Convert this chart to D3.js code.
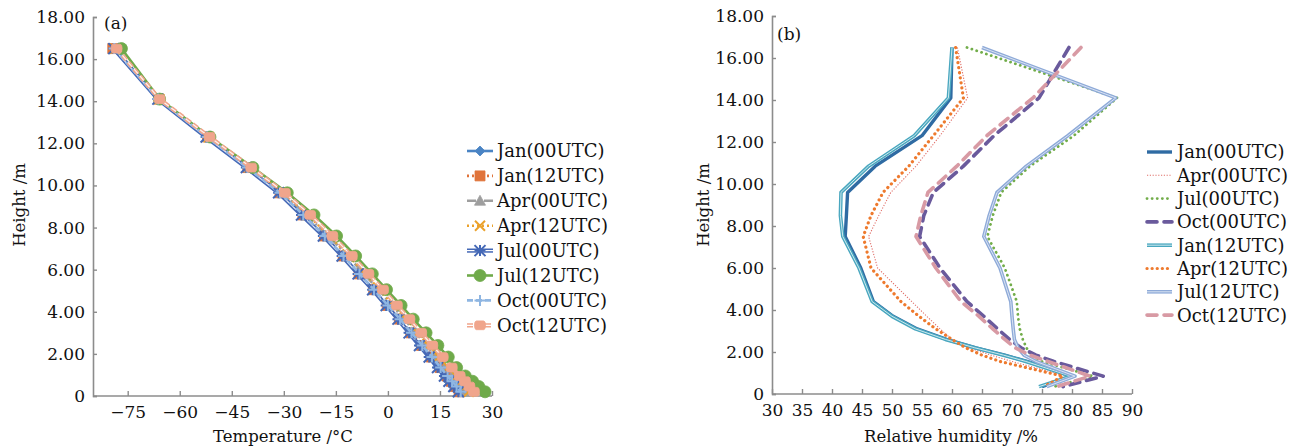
<!DOCTYPE html>
<html>
<head>
<meta charset="utf-8">
<script src="https://cdn.jsdelivr.net/npm/d3@7"></script>
<style>
  html, body { margin: 0; padding: 0; background: #fff; }
  svg { display: block; font-family: "DejaVu Serif", "Liberation Serif", serif; }
  .tick text { fill: #111; }
</style>
</head>
<body>
<svg id="chart" width="1297" height="447"></svg>
<script>
// ---- Panel (a): temperature profiles ----
const tempHeights = [16.5, 14.1, 12.3, 10.85, 9.65, 8.6, 7.6, 6.65, 5.8, 5.05, 4.3, 3.65, 3.0, 2.4, 1.85, 1.35, 0.95, 0.7, 0.45, 0.2];
const tJan00 = [-79.0, -66.2, -52.2, -40.6, -31.3, -24.7, -18.5, -13.1, -8.5, -4.3, -0.4, 3.0, 6.2, 9.2, 12.0, 14.4, 16.2, 17.4, 18.8, 20.2];
const tJan12 = [-79.3, -66.0, -52.0, -40.4, -31.1, -24.5, -18.3, -12.9, -8.3, -4.1, -0.2, 3.3, 6.6, 9.7, 12.5, 15.0, 17.0, 18.2, 19.4, 20.5];
const tApr00 = [-78.6, -65.9, -51.7, -39.9, -30.4, -23.5, -17.1, -11.6, -6.9, -2.7, 1.2, 4.7, 8.0, 11.1, 13.9, 16.4, 18.5, 19.8, 21.0, 22.2];
const tApr12 = [-78.8, -65.9, -51.6, -39.7, -30.1, -23.2, -16.8, -11.3, -6.6, -2.4, 1.6, 5.2, 8.6, 11.8, 14.8, 17.5, 19.7, 21.0, 22.2, 23.3];
const tJul00 = [-79.0, -66.3, -52.4, -40.8, -31.5, -24.9, -18.6, -13.2, -8.6, -4.4, -0.5, 2.9, 6.1, 9.1, 11.9, 14.3, 16.3, 17.6, 19.0, 20.3];
const tJul12 = [-76.8, -65.8, -51.3, -38.9, -29.0, -21.3, -14.8, -9.3, -4.5, -0.4, 3.8, 7.3, 11.0, 14.4, 17.4, 19.8, 22.3, 24.4, 26.2, 28.0];
const tOct00 = [-78.9, -66.2, -52.1, -40.5, -31.1, -24.4, -18.2, -12.8, -8.2, -4.0, 0.0, 3.5, 6.8, 9.9, 12.7, 15.2, 17.2, 18.5, 19.8, 21.0];
const tOct12 = [-78.2, -65.8, -51.4, -39.4, -29.7, -22.4, -16.0, -10.4, -5.6, -1.4, 2.6, 6.2, 9.6, 12.8, 15.8, 18.4, 20.7, 22.2, 23.5, 24.8];
const tempTicks = [-75, -60, -45, -30, -15, 0, 15, 30];

// ---- Panel (b): relative humidity profiles ----
const rhHeights = [16.5, 14.1, 12.3, 10.85, 9.6, 8.5, 7.5, 6.0, 4.4, 3.7, 3.1, 2.6, 2.2, 1.85, 1.55, 0.85, 0.35];
const rhJan00 = [60.0, 59.8, 55.0, 47.2, 42.6, 42.4, 42.2, 44.8, 46.9, 50.2, 54.2, 59.1, 64.0, 68.8, 72.5, 80.2, 75.0];
const rhApr00 = [60.9, 62.6, 58.0, 54.0, 49.8, 47.8, 46.1, 47.6, 53.3, 55.8, 58.0, 60.0, 62.8, 66.5, 70.0, 79.0, 75.8];
const rhJul00 = [62.5, 87.5, 80.3, 73.0, 68.2, 66.8, 65.9, 68.8, 70.8, 71.0, 71.3, 71.8, 72.4, 73.2, 75.0, 83.5, 77.0];
const rhOct00 = [79.5, 74.5, 67.0, 61.9, 56.9, 55.3, 54.6, 58.0, 62.5, 65.3, 67.6, 69.6, 71.5, 74.0, 77.0, 85.2, 78.5];
const rhJan12 = [60.0, 59.4, 53.7, 46.1, 41.5, 41.4, 41.8, 44.5, 46.7, 50.0, 53.9, 58.9, 63.8, 68.6, 72.3, 79.8, 74.5];
const rhApr12 = [60.6, 61.9, 56.9, 52.8, 48.5, 46.5, 45.2, 46.5, 51.5, 54.5, 57.3, 60.0, 62.3, 65.0, 68.0, 78.5, 75.3];
const rhJul12 = [65.0, 87.3, 79.3, 72.4, 67.5, 66.2, 65.3, 68.0, 69.8, 70.0, 70.2, 70.4, 71.0, 72.0, 74.0, 80.5, 75.8];
const rhOct12 = [81.5, 73.5, 65.8, 60.8, 56.0, 54.8, 54.0, 57.3, 61.5, 64.5, 66.8, 68.8, 70.5, 73.0, 76.0, 83.0, 77.5];
const rhTicks = [30, 35, 40, 45, 50, 55, 60, 65, 70, 75, 80, 85, 90];

const heightTicks = [0, 2, 4, 6, 8, 10, 12, 14, 16, 18];

const svg = d3.select("#chart");
const axisColor = "#8c8c8c";
const textColor = "#111";
const fmtH = d => d === 0 ? "0" : d.toFixed(2);

// Small marker shapes used on the temperature curves
function markerPath(type, s) {
  const h = s / 2;
  switch (type) {
    case "diamond": return `M0,${-h}L${h},0L0,${h}L${-h},0Z`;
    case "square": return `M${-h},${-h}H${h}V${h}H${-h}Z`;
    case "triangle": return `M0,${-h}L${h},${h * 0.8}L${-h},${h * 0.8}Z`;
    case "x": return `M${-h},${-h}L${h},${h}M${h},${-h}L${-h},${h}`;
    case "asterisk": return `M${-h},${-h}L${h},${h}M${h},${-h}L${-h},${h}M0,${-h}V${h}M${-h},0H${h}`;
    case "plus": return `M0,${-h}V${h}M${-h},0H${h}`;
    case "circle": return d3.symbol(d3.symbolCircle, Math.PI * h * h)();
    case "roundbox": return `M${-h + 2},${-h * 0.8}H${h - 2}Q${h},${-h * 0.8} ${h},0Q${h},${h * 0.8} ${h - 2},${h * 0.8}H${-h + 2}Q${-h},${h * 0.8} ${-h},0Q${-h},${-h * 0.8} ${-h + 2},${-h * 0.8}Z`;
  }
}

function drawAxes(g, x, y, ticksX, fmtX, y0, x0, x1) {
  const ax = g.append("g").attr("transform", `translate(0,${y0})`)
    .call(d3.axisBottom(x).tickValues(ticksX).tickFormat(fmtX).tickSize(-5).tickPadding(10));
  const ay = g.append("g").attr("transform", `translate(${x0},0)`)
    .call(d3.axisLeft(y).tickValues(heightTicks).tickFormat(fmtH).tickSize(-4).tickPadding(8));
  [ax, ay].forEach(a => {
    a.select(".domain").attr("stroke", axisColor).attr("stroke-width", 1.6);
    a.selectAll(".tick line").attr("stroke", axisColor).attr("stroke-width", 1.4);
    a.selectAll(".tick text").attr("font-size", 17).attr("font-family", "DejaVu Serif");
  });
  ax.select(".domain").attr("d", `M${x0},0H${x1}`);
}

// ================= Panel (a) =================
{
  const x = d3.scaleLinear([-85, 30], [93, 492]);
  const y = d3.scaleLinear([0, 18], [396, 17]);
  const g = svg.append("g");
  drawAxes(g, x, y, tempTicks, d3.format(""), 396, 93, 492);

  const series = [
    { name: "Jan(00UTC)", v: tJan00, color: "#4a84c4", dash: null, w: 2.6, mk: "diamond", ms: 10, fill: true },
    { name: "Jan(12UTC)", v: tJan12, color: "#e0733a", dash: "2,3", w: 2.6, mk: "square", ms: 10, fill: true },
    { name: "Apr(00UTC)", v: tApr00, color: "#9e9e9e", dash: "9,3,2,3", w: 2.6, mk: "triangle", ms: 11, fill: true },
    { name: "Apr(12UTC)", v: tApr12, color: "#eba22c", dash: "2,3", w: 2.4, mk: "x", ms: 10, fill: false },
    { name: "Jul(00UTC)", v: tJul00, color: "#4468b6", dash: null, w: 4.2, mk: "asterisk", ms: 11, fill: false, dbl: true },
    { name: "Jul(12UTC)", v: tJul12, color: "#6faa4a", dash: null, w: 2.6, mk: "circle", ms: 12, fill: true },
    { name: "Oct(00UTC)", v: tOct00, color: "#8fb6e2", dash: "6,3", w: 2.6, mk: "plus", ms: 11, fill: false },
    { name: "Oct(12UTC)", v: tOct12, color: "#f0a58c", dash: "6,3", w: 4.2, mk: "roundbox", ms: 11, fill: true, dbl: true }
  ];

  const line = d3.line().x(d => x(d[0])).y(d => y(d[1]));
  series.forEach(s => {
    const pts = s.v.map((t, i) => [t, tempHeights[i]]);
    g.append("path").attr("d", line(pts)).attr("fill", "none")
      .attr("stroke", s.color).attr("stroke-width", s.w)
      .attr("stroke-dasharray", s.dash).attr("stroke-linejoin", "round");
    if (s.dbl) {
      g.append("path").attr("d", line(pts)).attr("fill", "none")
        .attr("stroke", "#fff").attr("stroke-width", 1.2)
        .attr("stroke-dasharray", s.dash).attr("opacity", 0.85);
    }
    g.selectAll(null).data(pts).join("path")
      .attr("transform", d => `translate(${x(d[0])},${y(d[1])})`)
      .attr("d", markerPath(s.mk, s.ms))
      .attr("fill", s.fill ? s.color : "none")
      .attr("stroke", s.color).attr("stroke-width", s.fill ? 0.8 : 2);
  });

  // legend
  const lg = g.append("g");
  series.forEach((s, i) => {
    const cy = 151 + i * 24.9;
    lg.append("line").attr("x1", 467).attr("x2", 493).attr("y1", cy).attr("y2", cy)
      .attr("stroke", s.color).attr("stroke-width", s.w).attr("stroke-dasharray", s.dash);
    if (s.dbl) lg.append("line").attr("x1", 467).attr("x2", 493).attr("y1", cy).attr("y2", cy)
      .attr("stroke", "#fff").attr("stroke-width", 1.2).attr("stroke-dasharray", s.dash);
    lg.append("path").attr("transform", `translate(480,${cy})`)
      .attr("d", markerPath(s.mk, s.ms))
      .attr("fill", s.fill ? s.color : "none")
      .attr("stroke", s.color).attr("stroke-width", s.fill ? 0.8 : 2);
    lg.append("text").attr("x", 497).attr("y", cy).attr("dy", "0.36em")
      .attr("font-size", 18).attr("fill", textColor).text(s.name);
  });

  g.append("text").attr("x", 104).attr("y", 29).attr("font-size", 17).attr("fill", textColor).text("(a)");
  g.append("text").attr("x", 283).attr("y", 442).attr("text-anchor", "middle")
    .attr("font-size", 16.5).attr("fill", textColor).text("Temperature /°C");
  g.append("text").attr("transform", "translate(25,205) rotate(-90)").attr("text-anchor", "middle")
    .attr("font-size", 16.5).attr("fill", textColor).text("Height /m");
}

// ================= Panel (b) =================
{
  const x = d3.scaleLinear([30, 90], [772, 1132]);
  const y = d3.scaleLinear([0, 18], [394, 16]);
  const g = svg.append("g");
  drawAxes(g, x, y, rhTicks, d3.format(""), 394, 772, 1132);

  const series = [
    { name: "Jan(00UTC)", v: rhJan00, color: "#2f6ba3", dash: null, w: 3.4, cap: "butt" },
    { name: "Apr(00UTC)", v: rhApr00, color: "#e0706a", dash: "1.2,1.6", w: 1.1, cap: "butt" },
    { name: "Jul(00UTC)", v: rhJul00, color: "#72ad4a", dash: "0.1,5", w: 2.8, cap: "round" },
    { name: "Oct(00UTC)", v: rhOct00, color: "#6a5a9c", dash: "10,7", w: 3.6, cap: "round" },
    { name: "Jan(12UTC)", v: rhJan12, color: "#49a7bf", dash: null, w: 3.6, cap: "butt", dbl: "#cfe9ef" },
    { name: "Apr(12UTC)", v: rhApr12, color: "#ee7a2e", dash: "0.1,5", w: 3.2, cap: "round" },
    { name: "Jul(12UTC)", v: rhJul12, color: "#8eaad8", dash: null, w: 3.6, cap: "butt", dbl: "#d9e3f3" },
    { name: "Oct(12UTC)", v: rhOct12, color: "#d89aa4", dash: "10,7", w: 3.6, cap: "round" }
  ];

  const line = d3.line().x(d => x(d[0])).y(d => y(d[1]));
  series.forEach(s => {
    const pts = s.v.map((r, i) => [r, rhHeights[i]]);
    g.append("path").attr("d", line(pts)).attr("fill", "none")
      .attr("stroke", s.color).attr("stroke-width", s.w)
      .attr("stroke-dasharray", s.dash).attr("stroke-linecap", s.cap).attr("stroke-linejoin", "round");
    if (s.dbl) g.append("path").attr("d", line(pts)).attr("fill", "none")
      .attr("stroke", s.dbl).attr("stroke-width", 1).attr("stroke-linejoin", "round");
  });

  const lg = g.append("g");
  series.forEach((s, i) => {
    const cy = 152 + i * 23.3;
    lg.append("line").attr("x1", 1147).attr("x2", 1172).attr("y1", cy).attr("y2", cy)
      .attr("stroke", s.color).attr("stroke-width", s.w).attr("stroke-dasharray", s.dash)
      .attr("stroke-linecap", s.cap);
    if (s.dbl) lg.append("line").attr("x1", 1147).attr("x2", 1172).attr("y1", cy).attr("y2", cy)
      .attr("stroke", s.dbl).attr("stroke-width", 1);
    lg.append("text").attr("x", 1177).attr("y", cy).attr("dy", "0.36em")
      .attr("font-size", 18).attr("fill", textColor).text(s.name);
  });

  g.append("text").attr("x", 777).attr("y", 40).attr("font-size", 17).attr("fill", textColor).text("(b)");
  g.append("text").attr("x", 951).attr("y", 442).attr("text-anchor", "middle")
    .attr("font-size", 16.5).attr("fill", textColor).text("Relative humidity /%");
  g.append("text").attr("transform", "translate(709,205) rotate(-90)").attr("text-anchor", "middle")
    .attr("font-size", 16.5).attr("fill", textColor).text("Height /m");
}
</script>
</body>
</html>
